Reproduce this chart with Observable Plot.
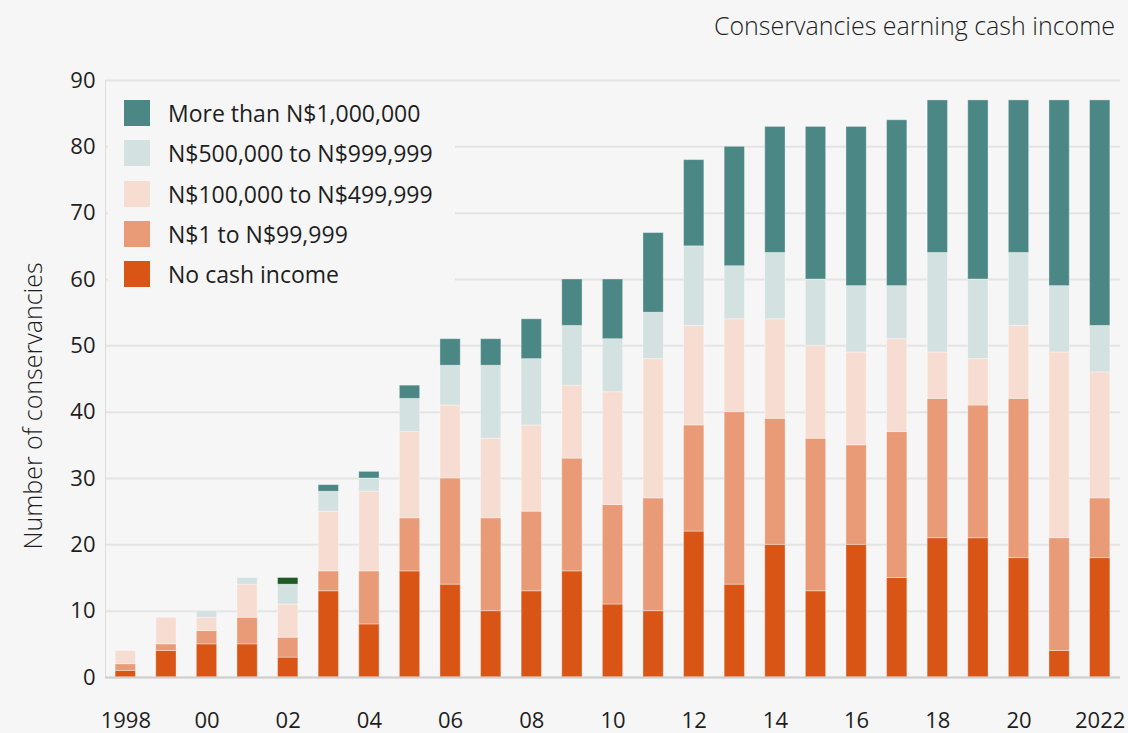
<!DOCTYPE html>
<html>
<head>
<meta charset="utf-8">
<script src="https://cdn.jsdelivr.net/npm/d3@7"></script>
<script src="https://cdn.jsdelivr.net/npm/@observablehq/plot@0.6"></script>
<style>
  html, body { margin: 0; padding: 0; background: #f6f6f6; }
  #wrap { position: relative; width: 1128px; height: 733px; font-family: "Open Sans", sans-serif; color: #1e1e1e; }
  #title { height: 50px; line-height: 50px; text-align: right; padding-right: 13px; font-size: 25px; font-weight: 300; }
  #ylabel { position: absolute; left: 32px; top: 406px; transform: translate(-50%, -50%) rotate(-90deg); white-space: nowrap; font-size: 25px; font-weight: 300; }
  #legend { position: absolute; left: 108px; top: 90px; width: 347px; height: 207px; background: #f6f6f6; }
  .row { position: absolute; left: 16px; height: 26px; display: flex; align-items: center; font-size: 23px; font-weight: 400; white-space: nowrap; }
  .sw { width: 26px; height: 26px; margin-right: 18px; flex: none; }
</style>
</head>
<body>
<div id="wrap">
  <div id="title">Conservancies earning cash income</div>
  <div id="chart"></div>
  <div id="ylabel">Number of conservancies</div>
  <div id="legend"></div>
</div>
<script>
const years = [1998,1999,2000,2001,2002,2003,2004,2005,2006,2007,2008,2009,2010,2011,2012,2013,2014,2015,2016,2017,2018,2019,2020,2021,2022];
const categories = ["No cash income","N$1 to N$99,999","N$100,000 to N$499,999","N$500,000 to N$999,999","More than N$1,000,000"];
const noCash   = [1,4,5,5,3,13,8,16,14,10,13,16,11,10,22,14,20,13,20,15,21,21,18,4,18];
const upTo99k  = [1,1,2,4,3,3,8,8,16,14,12,17,15,17,16,26,19,23,15,22,21,20,24,17,9];
const upTo499k = [2,4,2,5,5,9,12,13,11,12,13,11,17,21,15,14,15,14,14,14,7,7,11,28,19];
const upTo999k = [0,0,1,1,3,3,2,5,6,11,10,9,8,7,12,8,10,10,10,8,15,12,11,10,7];
const over1m   = [0,0,0,0,1,1,1,2,4,4,6,7,9,12,13,18,19,23,24,25,23,27,23,28,34];
const yTicks = [0,10,20,30,40,50,60,70,80,90];
const xTicks = [1998,2000,2002,2004,2006,2008,2010,2012,2014,2016,2018,2020,2022];

const colors = ["#d95516","#e99a76","#f7ddd1","#d3e1e0","#4a8785"];
const oddColorYear = 2002; // top segment drawn in dark green in the original
const oddColor = "#1e5a26";

const series = [noCash, upTo99k, upTo499k, upTo999k, over1m];
const table = [];
years.forEach((yr, i) => {
  categories.forEach((c, k) => {
    table.push({year: yr, cat: c, k, value: series[k][i]});
  });
});

const fmt = y => (y === 1998 || y === 2022) ? String(y) : String(y).slice(2);

const chart = Plot.plot({
  width: 1128,
  height: 683,
  marginTop: 30,
  marginBottom: 56,
  marginLeft: 105,
  marginRight: 8,
  style: {background: "transparent", fontFamily: "Open Sans, sans-serif", fontSize: "22px", color: "#1e1e1e"},
  x: {type: "band", domain: years, paddingInner: 0.5, paddingOuter: 0.25, round: false},
  y: {domain: [0, 90]},
  color: {type: "identity"},
  marks: [
    Plot.gridY(yTicks, {stroke: "#e4e4e4", strokeOpacity: 1, strokeWidth: 2}),
    Plot.frame({anchor: "left", stroke: "#dcdcdc", strokeWidth: 1}),
    Plot.barY(table, {
      x: "year", y: "value",
      fill: d => (d.year === oddColorYear && d.k === 4) ? oddColor : colors[d.k],
      stroke: "#ffffff", strokeOpacity: 0.35, strokeWidth: 1
    }),
    Plot.ruleY([0], {stroke: "#cfcfcf", strokeWidth: 2}),
    Plot.axisY(yTicks, {tickSize: 0, tickPadding: 10, label: null, fontSize: 22}),
    Plot.axisX(xTicks, {tickSize: 0, tickPadding: 35, label: null, tickFormat: fmt, fontSize: 22})
  ]
});
document.getElementById("chart").appendChild(chart);

const legend = document.getElementById("legend");
const order = [4,3,2,1,0];
order.forEach((k, j) => {
  const row = document.createElement("div");
  row.className = "row";
  row.style.top = (10 + j * 40.3) + "px";
  const sw = document.createElement("div");
  sw.className = "sw";
  sw.style.background = colors[k];
  const t = document.createElement("span");
  t.textContent = categories[k];
  row.appendChild(sw);
  row.appendChild(t);
  legend.appendChild(row);
});
</script>
</body>
</html>
